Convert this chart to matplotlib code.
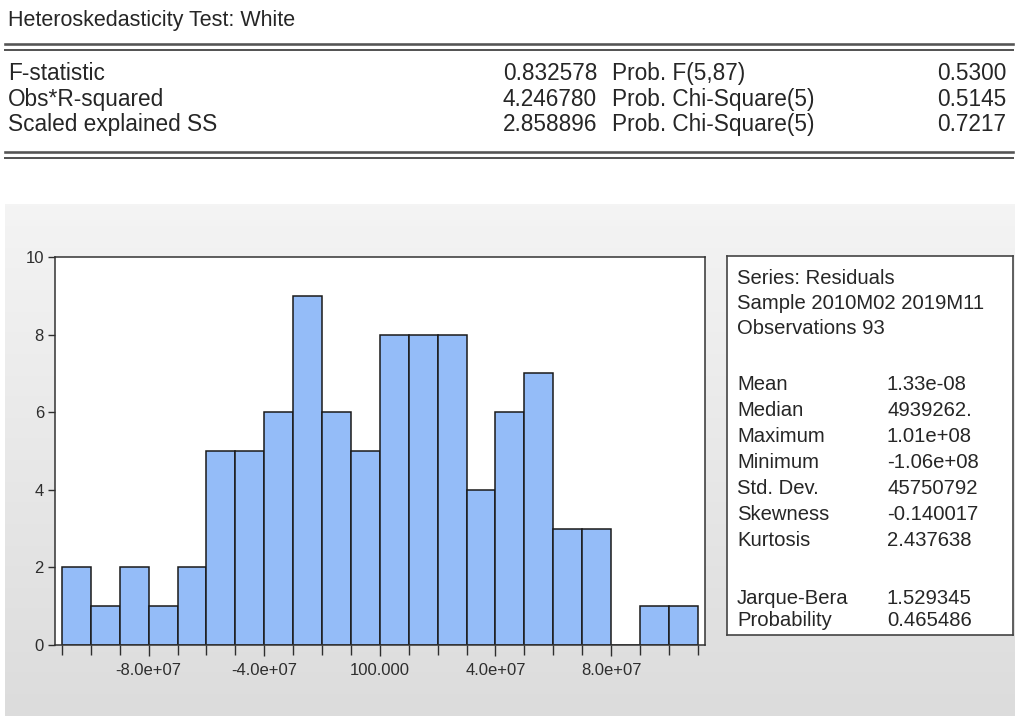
import numpy as np
import matplotlib
matplotlib.use('Agg')
import matplotlib.pyplot as plt
from matplotlib.lines import Line2D

plt.rcParams['font.family'] = ['Liberation Sans', 'DejaVu Sans']

# --- data -------------------------------------------------------------------
test_title = 'Heteroskedasticity Test: White'
test_names = ['F-statistic', 'Obs*R-squared', 'Scaled explained SS']
test_values = ['0.832578', '4.246780', '2.858896']
prob_names = ['Prob. F(5,87)', 'Prob. Chi-Square(5)', 'Prob. Chi-Square(5)']
prob_values = ['0.5300', '0.5145', '0.7217']

bin_start = -1.1e8
bin_width = 1.0e7
counts = [2, 1, 2, 1, 2, 5, 5, 6, 9, 6, 5, 8, 8, 8, 4, 6, 7, 3, 3, 0, 1, 1]

xtick_vals = [-8.0e7, -4.0e7, 0.0, 4.0e7, 8.0e7]
xtick_labels = ['-8.0e+07', '-4.0e+07', '100.000', '4.0e+07', '8.0e+07']
ytick_vals = [0, 2, 4, 6, 8, 10]

header_lines = ['Series: Residuals', 'Sample 2010M02 2019M11', 'Observations 93']
stat_names = ['Mean', 'Median', 'Maximum', 'Minimum', 'Std. Dev.', 'Skewness', 'Kurtosis']
stat_values = ['1.33e-08', '4939262.', '1.01e+08', '-1.06e+08', '45750792', '-0.140017', '2.437638']
jb_names = ['Jarque-Bera', 'Probability']
jb_values = ['1.529345', '0.465486']

# --- figure -----------------------------------------------------------------
W, H = 1018, 718
fig = plt.figure(figsize=(W / 100, H / 100), dpi=100)
fig.patch.set_facecolor('white')


def fx(px):
    return px / W


def fy(py):
    return 1 - py / H


def pix_axes(x0, y0, x1, y1, **kw):
    return fig.add_axes([fx(x0), fy(y1), fx(x1) - fx(x0), fy(y0) - fy(y1)], **kw)


txt_col = '#262626'
tab_fs = 16.3
box_fs = 14.6


def put(x, base_y, s, fs, ha='left'):
    # base_y is the text baseline in pixels from the top
    fig.text(fx(x), fy(base_y), s, fontsize=fs, va='baseline', ha=ha,
             color=txt_col, zorder=3)


# table at the top
put(8, 26, test_title, 15.5)
for yy, lw in [(44, 2.6), (50, 2.0), (152, 2.6), (158, 2.0)]:
    fig.add_artist(Line2D([fx(5), fx(1013)], [fy(yy), fy(yy)], color='#555555', lw=lw * 0.72))

row_base = [80, 106, 131]
for i, yy in enumerate(row_base):
    put(8, yy, test_names[i], tab_fs)
    put(597, yy, test_values[i], tab_fs, ha='right')
    put(612, yy, prob_names[i], tab_fs)
    put(1006, yy, prob_values[i], tab_fs, ha='right')

# grey gradient panel
bg = pix_axes(5, 204, 1015, 716, zorder=0)
grad = np.linspace(0, 1, 256).reshape(-1, 1)
bg.imshow(grad, aspect='auto', cmap=matplotlib.colors.LinearSegmentedColormap.from_list(
    'g', ['#f4f4f4', '#dcdcdc']), extent=[0, 1, 0, 1], origin='upper')
bg.set_axis_off()

# histogram
ax = pix_axes(55, 257, 705, 645, zorder=2)
ax.set_facecolor('white')
edges = bin_start + bin_width * np.arange(len(counts) + 1)
ax.bar(edges[:-1], counts, width=bin_width, align='edge', color='#94bcf8',
       edgecolor='#1a1a1a', linewidth=1.1)
ax.set_xlim(edges[0] - 0.24 * bin_width, edges[-1] + 0.25 * bin_width)
ax.set_ylim(0, 10)
ax.set_xticks(xtick_vals)
ax.set_xticklabels(xtick_labels)
ax.set_xticks(edges, minor=True)
ax.set_yticks(ytick_vals)
ax.tick_params(axis='both', which='both', direction='out', colors='#2e2e2e',
               labelsize=12, width=1.0)
ax.tick_params(axis='x', which='major', length=8, pad=5)
ax.tick_params(axis='x', which='minor', length=7)
ax.tick_params(axis='y', length=5, pad=3)
for s in ax.spines.values():
    s.set_color('#333333')
    s.set_linewidth(1.1)

# stats box
sb = pix_axes(727, 256, 1013, 635, zorder=2)
sb.set_facecolor('white')
sb.set_xticks([])
sb.set_yticks([])
for s in sb.spines.values():
    s.set_color('#444444')
    s.set_linewidth(1.2)

for txt, yy in zip(header_lines, [284, 309, 334]):
    put(737, yy, txt, box_fs)
stat_base = [390, 416, 442, 468, 494, 520, 546]
for name, val, yy in zip(stat_names, stat_values, stat_base):
    put(737, yy, name, box_fs)
    put(887, yy, val, box_fs)
for name, val, yy in zip(jb_names, jb_values, [604, 626]):
    put(737, yy, name, box_fs)
    put(887, yy, val, box_fs)

fig.savefig('out.png', dpi=100)
